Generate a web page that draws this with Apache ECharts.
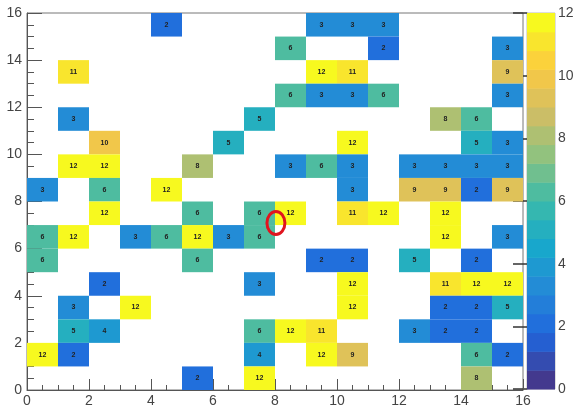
<!DOCTYPE html>
<html>
<head>
<meta charset="utf-8">
<script src="https://cdn.jsdelivr.net/npm/echarts@6/dist/echarts.min.js"></script>
<style>
  html, body { margin: 0; padding: 0; background: #fff; }
  #chart { width: 577px; height: 408px; }
</style>
</head>
<body>
<div id="chart"></div>
<script>
// bin (lower edge) on x, bin on y, and entry count, listed row by row from the top
var binX = [
  4, 9, 10, 11,
  8, 11, 15,
  1, 9, 10, 15,
  8, 9, 10, 11, 15,
  1, 7, 13, 14,
  2, 6, 10, 14, 15,
  1, 2, 5, 8, 9, 10, 12, 13, 14, 15,
  0, 2, 4, 10, 12, 13, 14, 15,
  2, 5, 7, 8, 10, 11, 13,
  0, 1, 3, 4, 5, 6, 7, 13, 15,
  0, 5, 9, 10, 12, 14,
  2, 7, 10, 13, 14, 15,
  1, 3, 10, 13, 14, 15,
  1, 2, 7, 8, 9, 12, 13, 14,
  0, 1, 7, 9, 10, 14, 15,
  5, 7, 14
];
var binY = [
  15, 15, 15, 15,
  14, 14, 14,
  13, 13, 13, 13,
  12, 12, 12, 12, 12,
  11, 11, 11, 11,
  10, 10, 10, 10, 10,
  9, 9, 9, 9, 9, 9, 9, 9, 9, 9,
  8, 8, 8, 8, 8, 8, 8, 8,
  7, 7, 7, 7, 7, 7, 7,
  6, 6, 6, 6, 6, 6, 6, 6, 6,
  5, 5, 5, 5, 5, 5,
  4, 4, 4, 4, 4, 4,
  3, 3, 3, 3, 3, 3,
  2, 2, 2, 2, 2, 2, 2, 2,
  1, 1, 1, 1, 1, 1, 1,
  0, 0, 0
];
var counts = [
  2, 3, 3, 3,
  6, 2, 3,
  11, 12, 11, 9,
  6, 3, 3, 6, 3,
  3, 5, 8, 6,
  10, 5, 12, 5, 3,
  12, 12, 8, 3, 6, 3, 3, 3, 3, 3,
  3, 6, 12, 3, 9, 9, 2, 9,
  12, 6, 6, 12, 11, 12, 12,
  6, 12, 3, 6, 12, 3, 6, 12, 3,
  6, 6, 2, 2, 5, 2,
  2, 3, 12, 11, 12, 12,
  3, 12, 12, 2, 2, 5,
  5, 4, 6, 12, 11, 3, 2, 2,
  12, 2, 4, 12, 9, 6, 2,
  2, 12, 8
];

var zMax = 12;
var nContours = 20;

// kBird palette stops
var birdStops = [0, 0.125, 0.25, 0.375, 0.5, 0.625, 0.75, 0.875, 1];
var birdR = [0.2082, 0.0592, 0.0780, 0.0232, 0.1802, 0.5301, 0.8186, 0.9956, 0.9764];
var birdG = [0.1664, 0.3599, 0.5041, 0.6419, 0.7178, 0.7492, 0.7328, 0.7862, 0.9832];
var birdB = [0.5293, 0.8684, 0.8385, 0.7914, 0.6425, 0.4662, 0.3499, 0.1968, 0.0539];

// the screenshot is a little washed out, so mix a bit of light grey in
function bird(t) {
  var k = 0;
  while (k < birdStops.length - 2 && t > birdStops[k + 1]) k++;
  var f = (t - birdStops[k]) / (birdStops[k + 1] - birdStops[k]);
  function ch(a) {
    var v = 255 * (a[k] + (a[k + 1] - a[k]) * f);
    return Math.round(v * 0.92 + 225 * 0.08);
  }
  return 'rgb(' + ch(birdR) + ',' + ch(birdG) + ',' + ch(birdB) + ')';
}

function bandOf(z) {
  return Math.min(nContours - 1, Math.floor(z / zMax * nContours));
}

function bandColor(k) {
  return bird(k / (nContours - 1));
}

var cells = [];
for (var i = 0; i < counts.length; i++) {
  cells.push([binX[i], binY[i], counts[i]]);
}

var bands = [];
for (var k = 0; k < nContours; k++) {
  bands.push([k * zMax / nContours, (k + 1) * zMax / nContours, k]);
}

var labelFont = '"Liberation Sans", Arial, sans-serif';

var chart = echarts.init(document.getElementById('chart'));

var option = {
  backgroundColor: '#fff',
  animation: false,
  grid: [
    { left: 27, right: 54, top: 13, bottom: 18, show: true, borderColor: '#777', borderWidth: 1, backgroundColor: 'transparent' },
    { left: 527, right: 22, top: 13, bottom: 19, show: true, borderColor: '#bbb', borderWidth: 1 }
  ],
  xAxis: [
    {
      gridIndex: 0, type: 'value', min: 0, max: 16, interval: 2,
      axisLine: { show: true, lineStyle: { color: '#555' } },
      axisTick: { inside: true, length: 11, lineStyle: { color: '#555' } },
      minorTick: { show: true, splitNumber: 4, length: 5, lineStyle: { color: '#555' } },
      splitLine: { show: false },
      axisLabel: { fontSize: 14, color: '#444', margin: 4, fontFamily: labelFont }
    },
    { gridIndex: 1, type: 'value', min: 0, max: 1, show: false }
  ],
  yAxis: [
    {
      gridIndex: 0, type: 'value', min: 0, max: 16, interval: 2,
      axisLine: { show: true, lineStyle: { color: '#555' } },
      axisTick: { inside: true, length: 15, lineStyle: { color: '#555' } },
      minorTick: { show: true, splitNumber: 4, length: 7, lineStyle: { color: '#555' } },
      splitLine: { show: false },
      axisLabel: { fontSize: 14, color: '#444', margin: 5, fontFamily: labelFont }
    },
    {
      gridIndex: 1, type: 'value', min: 0, max: 12, interval: 2, position: 'right',
      axisLine: { show: true, lineStyle: { color: '#999' } },
      axisTick: { inside: true, length: 14, lineStyle: { color: '#333', width: 1.5 } },
      splitLine: { show: false },
      axisLabel: { fontSize: 14, color: '#444', margin: 3, fontFamily: labelFont }
    }
  ],
  series: [
    {
      type: 'custom',
      xAxisIndex: 0, yAxisIndex: 0,
      data: cells,
      renderItem: function (params, api) {
        var x = api.value(0), y = api.value(1), z = api.value(2);
        var p0 = api.coord([x, y + 1]);
        var p1 = api.coord([x + 1, y]);
        return {
          type: 'group',
          children: [
            {
              type: 'rect',
              shape: { x: p0[0], y: p0[1], width: p1[0] - p0[0], height: p1[1] - p0[1] },
              style: { fill: bandColor(bandOf(z)) }
            },
            {
              type: 'text',
              x: (p0[0] + p1[0]) / 2, y: (p0[1] + p1[1]) / 2,
              style: {
                text: String(z), align: 'center', verticalAlign: 'middle',
                font: 'bold 7px ' + labelFont, fill: '#222'
              }
            }
          ]
        };
      }
    },
    {
      type: 'custom',
      xAxisIndex: 1, yAxisIndex: 1,
      data: bands,
      renderItem: function (params, api) {
        var p0 = api.coord([0, api.value(1)]);
        var p1 = api.coord([1, api.value(0)]);
        return {
          type: 'rect',
          shape: { x: p0[0], y: p0[1], width: p1[0] - p0[0], height: p1[1] - p0[1] + 0.5 },
          style: { fill: bandColor(api.value(2)) }
        };
      },
      z: 1
    }
  ]
};

chart.setOption(option);

// red hand-drawn marker near bin (8, 7)
var c = chart.convertToPixel({ gridIndex: 0 }, [8.03, 7.09]);
chart.setOption({
  graphic: [{
    type: 'ellipse',
    shape: { cx: c[0], cy: c[1], rx: 9, ry: 11.5 },
    style: { fill: 'none', stroke: '#e0141e', lineWidth: 3 },
    z: 100
  }]
});
</script>
</body>
</html>
